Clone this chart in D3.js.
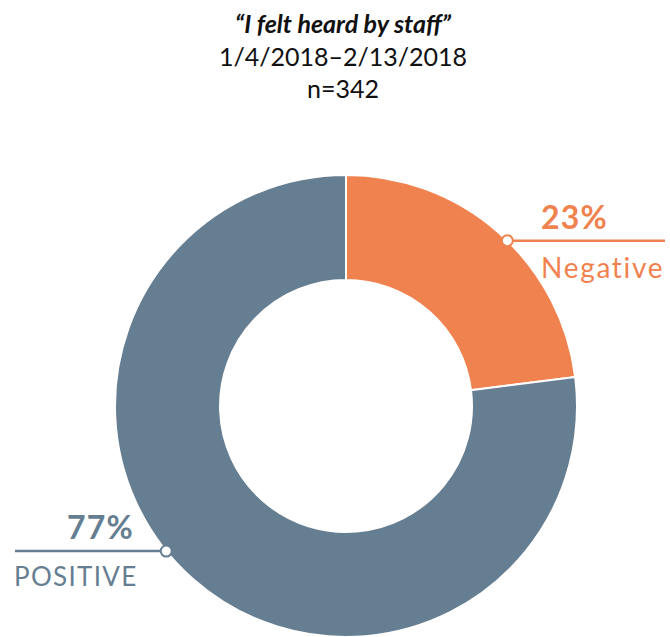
<!DOCTYPE html>
<html>
<head>
<meta charset="utf-8">
<script src="https://d3js.org/d3.v7.min.js"></script>
<style>
  body { margin: 0; background: #fff; }
  text { font-family: Lato, "Open Sans", sans-serif; }
</style>
</head>
<body>
<script>
  // data
  const labels = ['Negative', 'POSITIVE']
  const values = [23, 77]
  const colors = ['#F0824F', '#667E91']
  const titleLines = ['\u201CI felt heard by staff\u201D', '1/4/2018\u20132/13/2018', 'n=342']

  const width = 670, height = 637
  const cx = 346, cy = 406
  const outerR = 231, innerR = 126

  const svg = d3.select('body').append('svg')
    .attr('width', width)
    .attr('height', height)

  // title
  svg.selectAll('text.title')
    .data(titleLines)
    .enter()
    .append('text')
    .attr('class', 'title')
    .attr('x', 343)
    .attr('y', (d, i) => 33 + i * 32.5)
    .attr('text-anchor', 'middle')
    .attr('font-size', '25px')
    .attr('font-weight', (d, i) => i === 0 ? 'bold' : 'normal')
    .attr('font-style', (d, i) => i === 0 ? 'italic' : 'normal')
    .attr('fill', '#111')
    .text(d => d)

  const pie = d3.pie().sort(null).value(d => d)
  const arcs = pie(values)
  const arc = d3.arc().innerRadius(innerR).outerRadius(outerR)

  const g = svg.append('g').attr('transform', `translate(${cx},${cy})`)

  g.selectAll('path')
    .data(arcs)
    .enter()
    .append('path')
    .attr('d', arc)
    .attr('fill', (d, i) => colors[i])
    .attr('stroke', '#fff')
    .attr('stroke-width', 2)

  // label anchor on the outer edge, a bit past the middle of each slice
  const anchor = d => {
    const a = d.startAngle + (d.endAngle - d.startAngle) * 0.535
    return [outerR * Math.sin(a), -outerR * Math.cos(a)]
  }

  const lineEnds = [width - cx - 5, 15 - cx]

  arcs.forEach((d, i) => {
    const [x, y] = anchor(d)
    const right = i === 0
    g.append('line')
      .attr('x1', x).attr('y1', y)
      .attr('x2', lineEnds[i]).attr('y2', y)
      .attr('stroke', colors[i])
      .attr('stroke-width', 2.5)
    g.append('circle')
      .attr('cx', x).attr('cy', y)
      .attr('r', 5.5)
      .attr('fill', '#fff')
      .attr('stroke', colors[i])
      .attr('stroke-width', 2)

    const tx = right ? 541 - cx : 134 - cx
    g.append('text')
      .attr('x', tx)
      .attr('y', y - 12)
      .attr('text-anchor', right ? 'start' : 'end')
      .attr('font-size', '32px')
      .attr('font-weight', 'bold')
      .attr('letter-spacing', '1.2px')
      .attr('fill', colors[i])
      .text(d.data + '%')
    g.append('text')
      .attr('x', right ? 541 - cx : 14 - cx)
      .attr('y', y + (right ? 37 : 35))
      .attr('font-size', right ? '28px' : '26px')
      .attr('letter-spacing', right ? '1.7px' : '1.3px')
      .attr('fill', colors[i])
      .text(labels[i])
  })
</script>
</body>
</html>
